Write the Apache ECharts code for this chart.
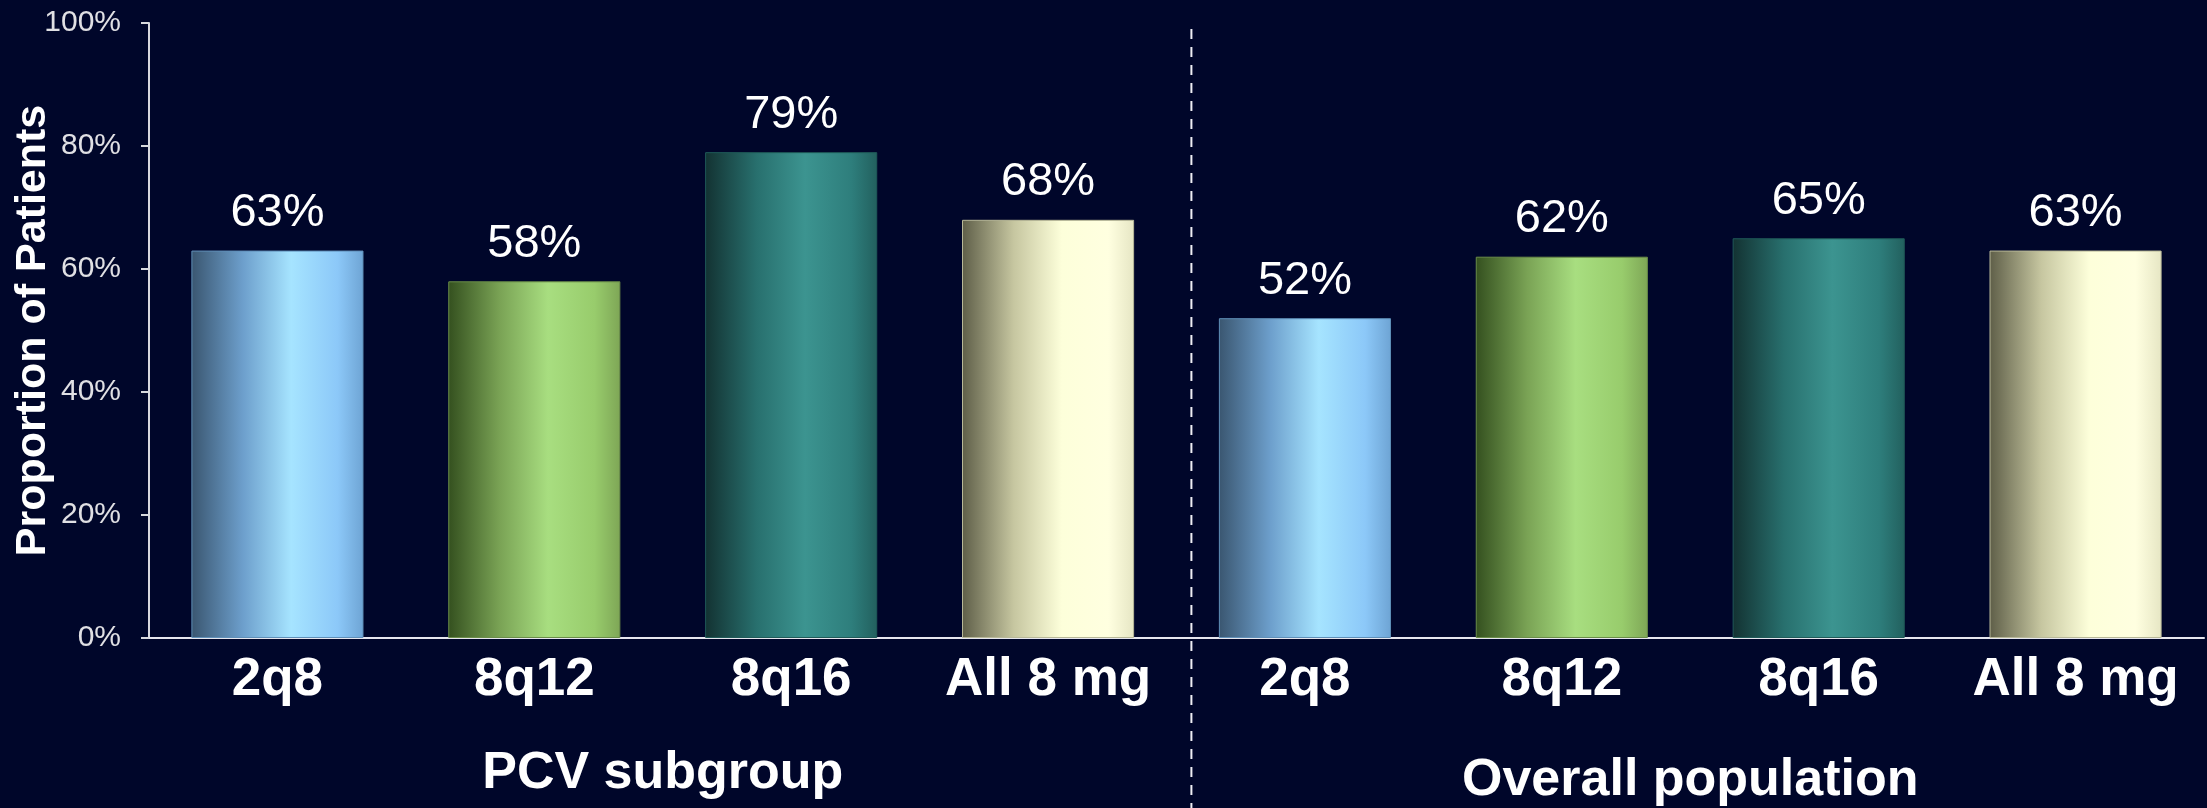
<!DOCTYPE html>
<html>
<head>
<meta charset="utf-8">
<script src="https://cdn.jsdelivr.net/npm/echarts@6/dist/echarts.min.js"></script>
<style>
  html, body { margin: 0; padding: 0; background: #00062a; }
  #chart { width: 2207px; height: 808px; }
</style>
</head>
<body>
<div id="chart"></div>
<script>
// 数据
const categories = ['2q8', '8q12', '8q16', 'All 8 mg', '2q8', '8q12', '8q16', 'All 8 mg']
const values = [63, 58, 79, 68, 52, 62, 65, 63]
const groups = ['PCV subgroup', 'Overall population']
const yTicks = [0, 20, 40, 60, 80, 100]

// 每种剂量的渐变色（左暗右亮，模拟圆柱）
const palette = [
  ['#3a5670', '#6d9fcc', '#a6e4ff', '#8cc8f8', '#6ea4d4'],
  ['#34501f', '#7aa355', '#a8de80', '#98cc6c', '#7ea656'],
  ['#133232', '#28706e', '#3c9490', '#2e7e7c', '#22605e'],
  ['#5e5e48', '#c6c6a0', '#fdffda', '#ffffe0', '#e6e6c4']
]
const borders = ['#5f8fb8', '#6a8c48', '#1f5a58', '#b8b898']

const chart = echarts.init(document.getElementById('chart'))
const font = "'Liberation Sans', Arial, sans-serif"

function grad(c) {
  return new echarts.graphic.LinearGradient(0, 0, 1, 0, [
    { offset: 0, color: c[0] },
    { offset: 0.3, color: c[1] },
    { offset: 0.58, color: c[2] },
    { offset: 0.85, color: c[3] },
    { offset: 1, color: c[4] }
  ])
}

const barData = values.map((v, i) => ({
  value: v,
  itemStyle: {
    color: grad(palette[i % 4]),
    borderColor: borders[i % 4],
    borderWidth: 1
  }
}))

const option = {
  backgroundColor: '#00062a',
  animation: false,
  grid: {
    left: 149, right: 3, top: 23, bottom: 170,
    containLabel: false,
    outerBoundsMode: 'none'
  },
  xAxis: [
    {
      type: 'category',
      data: categories,
      axisLine: { lineStyle: { color: '#e6e6ee', width: 2 } },
      axisTick: { show: false },
      axisLabel: {
        interval: 0,
        hideOverlap: false,
        color: '#ffffff',
        fontFamily: font,
        fontWeight: 'bold',
        fontSize: 53,
        margin: 16
      }
    },
    {
      type: 'category',
      data: groups,
      position: 'bottom',
      axisLine: { show: false },
      axisTick: { show: false },
      axisLabel: {
        interval: 0,
        hideOverlap: false,
        color: '#ffffff',
        fontFamily: font,
        fontWeight: 'bold',
        fontSize: 52,
        margin: 106,
        // 右侧分组标题略低
        formatter: (v, i) => (i === 0 ? '{a|' + v + '}' : '{b|' + v + '}'),
        rich: {
          a: { fontSize: 52, fontWeight: 'bold', fontFamily: font, color: '#ffffff', lineHeight: 60 },
          b: { fontSize: 52, fontWeight: 'bold', fontFamily: font, color: '#ffffff', lineHeight: 74 }
        }
      }
    },
    // 隐藏的数值轴，用于定位分隔虚线
    { type: 'value', min: 0, max: 8, show: false }
  ],
  yAxis: {
    type: 'value',
    min: 0,
    max: 100,
    interval: 20,
    name: 'Proportion of Patients',
    nameLocation: 'middle',
    nameGap: 94,
    nameMoveOverlap: false,
    nameTextStyle: {
      color: '#ffffff',
      fontFamily: font,
      fontWeight: 'bold',
      fontSize: 43
    },
    splitLine: { show: false },
    axisLine: { show: true, lineStyle: { color: '#d8d8de', width: 2 } },
    axisTick: { show: true, length: 8, lineStyle: { color: '#d8d8de', width: 2 } },
    axisLabel: {
      color: '#e0e0e4',
      fontFamily: font,
      fontSize: 30,
      margin: 28,
      formatter: v => (yTicks.includes(v) ? v + '%' : '')
    }
  },
  series: [
    {
      type: 'bar',
      data: barData,
      barWidth: '67%',
      label: {
        show: true,
        position: 'top',
        distance: 14,
        color: '#ffffff',
        fontFamily: font,
        fontSize: 47,
        formatter: p => p.value + '%'
      }
    }
  ]
}

chart.setOption(option)

// 分组之间的白色虚线
const divX = chart.convertToPixel({ xAxisIndex: 2 }, 4.058)
chart.setOption({
  graphic: [{
    type: 'line',
    shape: { x1: divX, y1: 29, x2: divX, y2: 808 },
    style: { stroke: '#eeeef4', lineWidth: 2, lineDash: [10, 8] },
    silent: true
  }]
})
</script>
</body>
</html>
